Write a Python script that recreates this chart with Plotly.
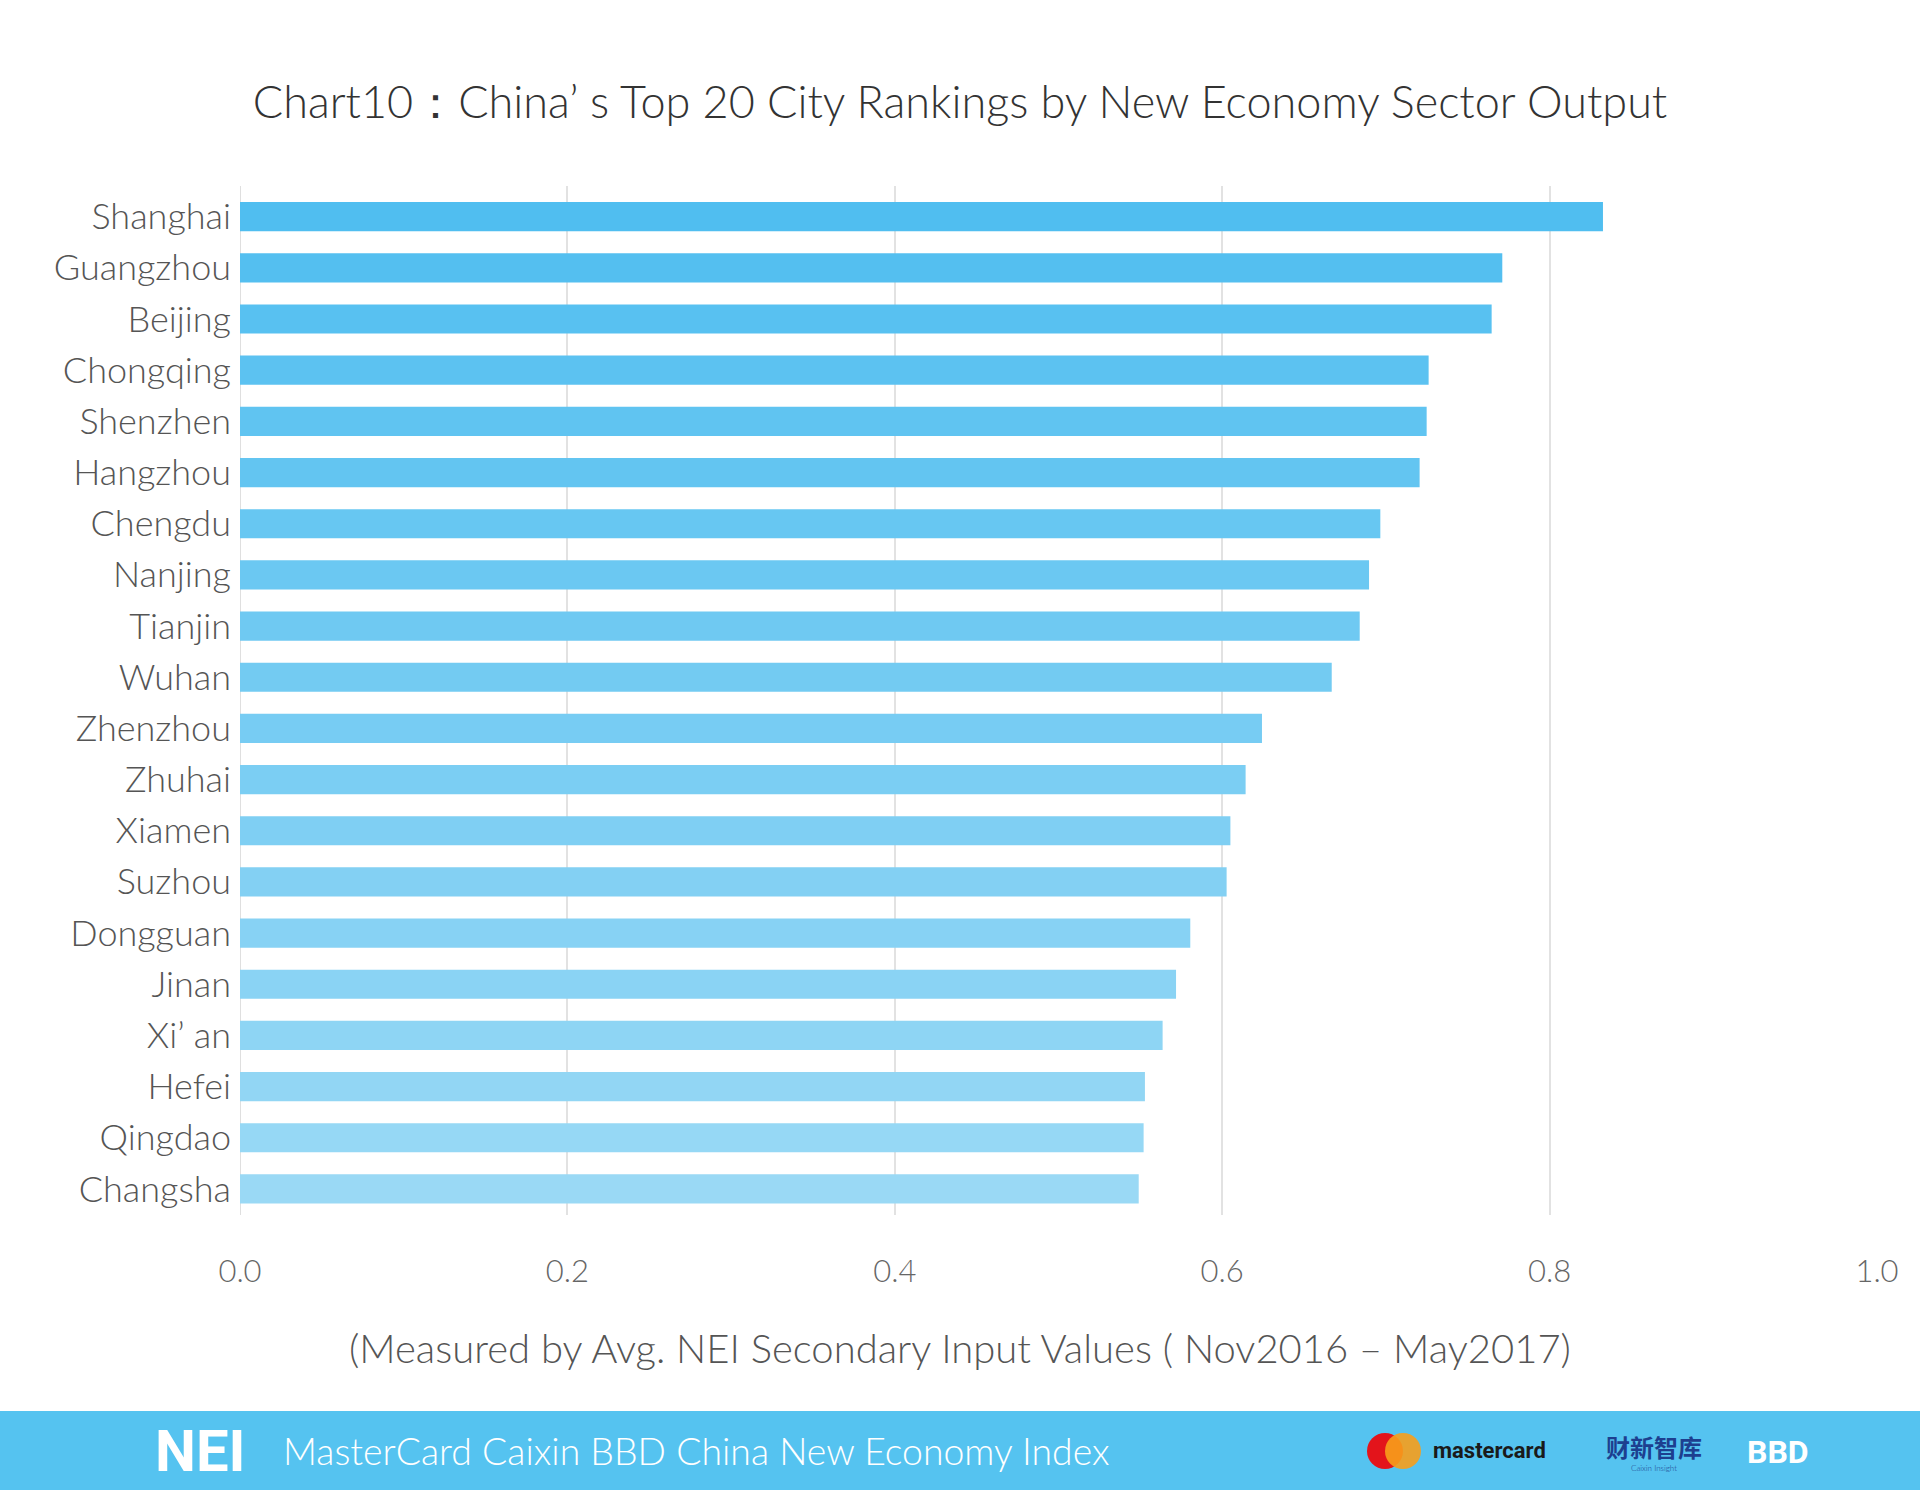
import plotly.graph_objects as go

cities = ["Shanghai", "Guangzhou", "Beijing", "Chongqing", "Shenzhen", "Hangzhou",
          "Chengdu", "Nanjing", "Tianjin", "Wuhan", "Zhenzhou", "Zhuhai", "Xiamen",
          "Suzhou", "Dongguan", "Jinan", "Xi\u2019 an", "Hefei", "Qingdao", "Changsha"]
values = [0.8326, 0.7711, 0.7646, 0.7261, 0.7249, 0.7206, 0.6966, 0.6897, 0.6840,
          0.6669, 0.6243, 0.6143, 0.6050, 0.6027, 0.5805, 0.5718, 0.5636, 0.5528,
          0.5520, 0.5490]
x_ticks = [0.0, 0.2, 0.4, 0.6, 0.8, 1.0]
x_tick_labels = ["0.0", "0.2", "0.4", "0.6", "0.8", "1.0"]

W, H = 1920, 1490
L, R, T, B = 240, 43, 186, 275
PW, PH = W - L - R, H - T - B

def px(x):
    return (x - L) / PW

def py(y):
    return (H - B - y) / PH

# bar colour gradient (top -> bottom)
c0 = (80, 190, 240)
c1 = (154, 217, 245)
n = len(cities)
colors = []
for i in range(n):
    t = i / (n - 1)
    colors.append("rgb(%d,%d,%d)" % tuple(round(a + (b - a) * t) for a, b in zip(c0, c1)))

FONT = "Lato"
WT = 300

fig = go.Figure(go.Bar(
    x=values, y=cities, orientation="h",
    marker=dict(color=colors, line=dict(width=0)),
    width=0.57,
))

fig.update_layout(
    width=W, height=H,
    margin=dict(l=L, r=R, t=T, b=B),
    paper_bgcolor="white", plot_bgcolor="white",
    showlegend=False,
    font=dict(family=FONT, color="#555555", weight=WT),
    title=dict(text="Chart10\uff1aChina\u2019 s Top 20 City Rankings by New Economy Sector Output",
               x=0.5, xref="container", xanchor="center",
               y=1 - 102 / H, yref="container", yanchor="middle",
               font=dict(family=FONT, size=45, color="#333333", weight=WT)),
    xaxis=dict(range=[0, 1.0], tickvals=x_ticks, ticktext=x_tick_labels,
               showgrid=True, gridcolor="#e2e2e2", gridwidth=1.5,
               zeroline=False, showline=False, ticks="",
               ticklabelstandoff=35,
               tickfont=dict(family=FONT, size=31, color="#666666", weight=WT)),
    yaxis=dict(range=[19.51, -0.6], showgrid=False, zeroline=False,
               showline=False, ticks="", ticklabelstandoff=8,
               tickfont=dict(family=FONT, size=36, color="#555555", weight=WT)),
    bargap=0.43,
)

# y axis line at x=0
fig.add_shape(type="line", xref="x", yref="paper", x0=0, x1=0, y0=0, y1=1,
              line=dict(color="#d5d5d5", width=1.5), layer="below")

# x-axis subtitle
fig.add_annotation(text="(Measured by Avg. NEI Secondary Input Values ( Nov2016 \u2013 May2017)",
                   xref="paper", yref="paper", x=px(960), y=py(1348),
                   xanchor="center", yanchor="middle", showarrow=False,
                   font=dict(family=FONT, size=40, color="#555555", weight=WT))

# footer band
fig.add_shape(type="rect", xref="paper", yref="paper",
              x0=px(0), x1=px(W), y0=py(H), y1=py(1411),
              fillcolor="#55c3f0", line=dict(width=0), layer="above")

fig.add_annotation(text="<b>NEI</b>", xref="paper", yref="paper",
                   x=px(153), y=py(1451), xanchor="left", yanchor="middle",
                   showarrow=False, font=dict(family="Liberation Sans Narrow, Roboto", size=58, color="white"))
fig.add_annotation(text="MasterCard Caixin BBD China New Economy Index", xref="paper", yref="paper",
                   x=px(281), y=py(1450), xanchor="left", yanchor="middle",
                   showarrow=False, font=dict(family=FONT, size=37.4, color="white", weight=WT))

# mastercard logo
fig.add_shape(type="circle", xref="paper", yref="paper",
              x0=px(1367), x1=px(1403), y0=py(1469), y1=py(1433),
              fillcolor="#e3141b", line=dict(width=0), layer="above")
fig.add_shape(type="circle", xref="paper", yref="paper",
              x0=px(1385), x1=px(1421), y0=py(1469), y1=py(1433),
              fillcolor="rgba(247,158,27,0.9)", line=dict(width=0), layer="above")
fig.add_annotation(text="<b>mastercard</b>", xref="paper", yref="paper",
                   x=px(1431), y=py(1450), xanchor="left", yanchor="middle",
                   showarrow=False, font=dict(family="Roboto", size=22, color="#1a1a1a"))
fig.add_annotation(text="<b>\u8d22\u65b0\u667a\u5e93</b>", xref="paper", yref="paper",
                   x=px(1604), y=py(1446), xanchor="left", yanchor="middle",
                   showarrow=False, font=dict(family="Noto Sans CJK SC", size=24, color="#1d3f8f"))
fig.add_annotation(text="Caixin Insight", xref="paper", yref="paper",
                   x=px(1654), y=py(1468), xanchor="center", yanchor="middle",
                   showarrow=False, font=dict(family=FONT, size=8, color="#1d3f8f"))
fig.add_annotation(text="<b>BBD</b>", xref="paper", yref="paper",
                   x=px(1745), y=py(1452), xanchor="left", yanchor="middle",
                   showarrow=False, font=dict(family="Liberation Sans Narrow, Roboto", size=32, color="white"))

fig.write_html("out.html", config={"displayModeBar": False},
               post_script="document.body.style.margin='0px';")
